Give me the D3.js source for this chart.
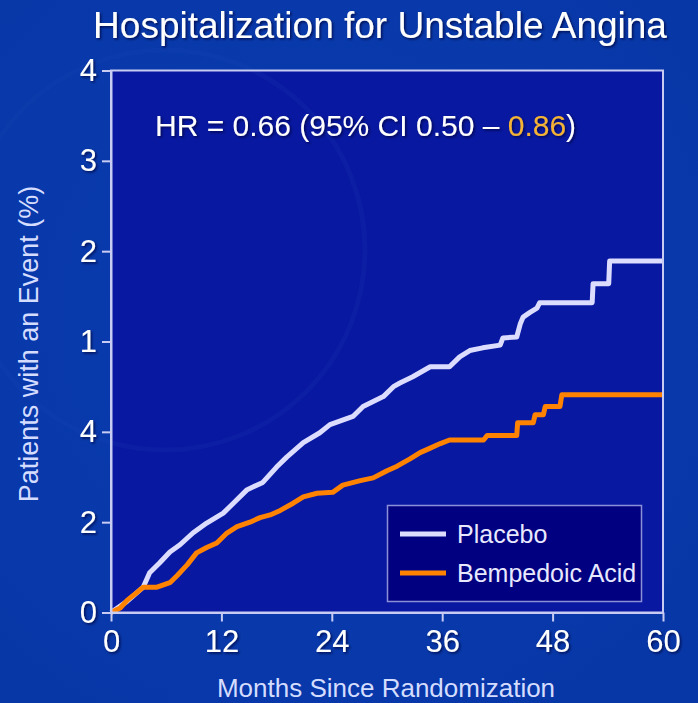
<!DOCTYPE html>
<html><head><meta charset="utf-8">
<script src="https://cdn.jsdelivr.net/npm/d3@7"></script>
<style>
html,body{margin:0;padding:0;background:#0a3aa8;}
svg{display:block;}
text{font-family:"Liberation Sans",Arial,sans-serif;}
</style></head>
<body>
<svg id="chart" width="698" height="703"></svg>
<script>
// ---- data ----
const title = "Hospitalization for Unstable Angina";
const xLabel = "Months Since Randomization";
const yLabel = "Patients with an Event (%)";
const xTicks = [0, 12, 24, 36, 48, 60];
const yTickPositions = [0, 1, 2, 3, 4, 5, 6];
const yTickLabels = ["0", "2", "4", "1", "2", "3", "4"];
const seriesNames = ["Placebo", "Bempedoic Acid"];

const placeboMonths = [0,1.7,3.5,4.2,5.3,6.4,7.5,8.9,10.4,12.2,13.3,14.8,16.5,18.0,19.1,20.9,22.7,23.8,26.3,27.4,29.6,30.7,31.4,32.8,34.7,36.8,37.9,39.0,40.4,42.3,42.6,44.1,44.5,44.8,45.5,46.3,46.6,52.3,52.4,54.1,54.2,60];
const placeboValues = [0,0.12,0.28,0.44,0.55,0.67,0.75,0.88,0.99,1.10,1.21,1.36,1.44,1.61,1.72,1.88,1.99,2.08,2.17,2.28,2.39,2.50,2.54,2.61,2.72,2.72,2.83,2.90,2.93,2.96,3.04,3.05,3.20,3.27,3.32,3.37,3.43,3.43,3.64,3.64,3.89,3.89];

const bempMonths = [0,1.0,1.8,2.8,3.5,5.0,6.4,7.2,8.3,9.3,10.4,11.5,12.6,13.7,15.1,16.2,17.3,18.4,19.8,20.9,22.4,24.1,25.2,27.1,28.5,30.0,31.1,32.5,33.6,34.7,35.8,36.8,40.5,40.9,44.1,44.2,45.9,46.1,47.0,47.2,48.8,49.0,60];
const bempValues = [0,0.05,0.14,0.22,0.28,0.28,0.33,0.41,0.53,0.66,0.72,0.77,0.88,0.95,1.00,1.05,1.08,1.13,1.21,1.28,1.32,1.33,1.41,1.46,1.49,1.57,1.62,1.70,1.77,1.82,1.87,1.91,1.91,1.96,1.96,2.10,2.10,2.19,2.19,2.28,2.28,2.41,2.41];

const hrParts = [
  {t: "HR = 0.66 (95% CI 0.50 \u2013 ", c: "#ffffff"},
  {t: "0.86", c: "#f5b335"},
  {t: ")", c: "#ffffff"}
];

// ---- drawing ----
const svg = d3.select("#chart");
const colors = {placebo: "#dcdcff", bemp: "#ff8200"};
const x = d3.scaleLinear().domain([0, 60]).range([111, 663]);
const y = d3.scaleLinear().domain([0, 6]).range([612.5, 70.5]);

const defs = svg.append("defs");
const g = defs.append("radialGradient").attr("id","bg").attr("cx","45%").attr("cy","45%").attr("r","75%");
g.append("stop").attr("offset","0%").attr("stop-color","#0a3cb0");
g.append("stop").attr("offset","100%").attr("stop-color","#0736a6");
const f = defs.append("filter").attr("id","sh").attr("x","-10%").attr("y","-10%").attr("width","130%").attr("height","140%");
f.append("feDropShadow").attr("dx",1.5).attr("dy",1.5).attr("stdDeviation",0.8).attr("flood-color","#000030").attr("flood-opacity",0.7);
const clip = defs.append("clipPath").attr("id","plotclip");
clip.append("rect").attr("x", x(0)).attr("y", y(6)).attr("width", x(60) - x(0)).attr("height", y(0) - y(6));

svg.append("rect").attr("width",698).attr("height",703).attr("fill","url(#bg)");

// faint watermark circle
svg.append("circle").attr("cx",165).attr("cy",250).attr("r",200)
  .attr("fill","none").attr("stroke","#1a48b8").attr("stroke-width",5).attr("opacity",0.18);

// plot background
svg.append("rect")
  .attr("x", x(0)).attr("y", y(6))
  .attr("width", x(60) - x(0)).attr("height", y(0) - y(6))
  .attr("fill", "#0818a0");
svg.append("circle").attr("clip-path","url(#plotclip)").attr("cx",165).attr("cy",250).attr("r",200)
  .attr("fill","none").attr("stroke","#1026a8").attr("stroke-width",5).attr("opacity",0.5);

// title
svg.append("text").attr("x", 380).attr("y", 38).attr("text-anchor","middle")
  .attr("font-size", 37).attr("fill", "#ffffff").attr("filter","url(#sh)").text(title);

// HR annotation
const hr = svg.append("text").attr("x", 155).attr("y", 136).attr("font-size", 30).attr("filter","url(#sh)");
hrParts.forEach(p => hr.append("tspan").attr("fill", p.c).text(p.t));

// lines
const line = d3.line().x(d => x(d[0])).y(d => y(d[1]));
const placebo = d3.zip(placeboMonths, placeboValues);
const bemp = d3.zip(bempMonths, bempValues);

svg.append("path").datum(placebo).attr("d", line).attr("fill","none")
  .attr("stroke", colors.placebo).attr("stroke-width", 5).attr("stroke-linejoin","round");
svg.append("path").datum(bemp).attr("d", line).attr("fill","none")
  .attr("stroke", colors.bemp).attr("stroke-width", 5).attr("stroke-linejoin","round");

// frame
svg.append("rect")
  .attr("x", x(0)).attr("y", y(6))
  .attr("width", x(60) - x(0)).attr("height", y(0) - y(6))
  .attr("fill", "none").attr("stroke", "#c8ccf2").attr("stroke-width", 2);

// axes
const axisColor = "#c8ccf2";
const xAxis = svg.append("g").attr("transform", `translate(0,${y(0)})`)
  .call(d3.axisBottom(x).tickValues(xTicks).tickSize(9).tickPadding(8).tickSizeOuter(0));
const yAxis = svg.append("g").attr("transform", `translate(${x(0)},0)`)
  .call(d3.axisLeft(y).tickValues(yTickPositions).tickFormat((d, i) => yTickLabels[i]).tickSize(9).tickPadding(5).tickSizeOuter(0));
[xAxis, yAxis].forEach(a => {
  a.select(".domain").attr("stroke", axisColor).attr("stroke-width", 2);
  a.selectAll(".tick line").attr("stroke", axisColor).attr("stroke-width", 2);
  a.selectAll(".tick text").attr("fill", "#ffffff").attr("font-size", 31)
    .attr("font-family", '"Liberation Sans", Arial, sans-serif').attr("filter","url(#sh)");
});

// axis titles
svg.append("text").attr("x", 386).attr("y", 697).attr("text-anchor","middle")
  .attr("font-size", 26).attr("fill", "#d4dcff").text(xLabel);
svg.append("text").attr("transform", "translate(38,344) rotate(-90)").attr("text-anchor","middle")
  .attr("font-size", 27).attr("fill", "#d4dcff").text(yLabel);

// legend
const lg = svg.append("g");
lg.append("rect").attr("x", 387.5).attr("y", 505.5).attr("width", 254).attr("height", 96)
  .attr("fill", "#000080").attr("stroke", "#8c90d8").attr("stroke-width", 1.5);
const legendItems = [
  {name: seriesNames[0], color: colors.placebo, yy: 534},
  {name: seriesNames[1], color: colors.bemp, yy: 573}
];
legendItems.forEach(it => {
  lg.append("line").attr("x1", 400).attr("x2", 446).attr("y1", it.yy).attr("y2", it.yy)
    .attr("stroke", it.color).attr("stroke-width", 5);
  lg.append("text").attr("x", 457).attr("y", it.yy + 9).attr("font-size", 25)
    .attr("fill", "#e8e8ff").text(it.name);
});
</script>
</body></html>
